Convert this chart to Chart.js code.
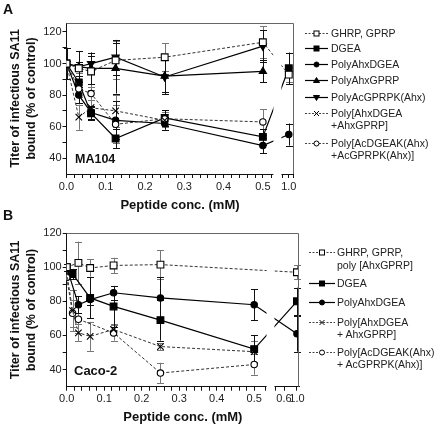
<!DOCTYPE html>
<html>
<head>
<meta charset="utf-8">
<script src="https://cdn.jsdelivr.net/npm/chart.js@4.4.1/dist/chart.umd.min.js"></script>
<style>
  body { margin: 0; background: #fff; font-family: "Liberation Sans", Arial, sans-serif; }
  #wrap { position: relative; width: 436px; height: 427px; overflow: hidden; }
  canvas { position: absolute; left: 0; }
  .panel { position: absolute; font-weight: bold; font-size: 14px; line-height: 14px; color: #111; }
  .leg { position: absolute; font-size: 10.5px; line-height: 13px; color: #222; white-space: nowrap; }
  #sym { position: absolute; left: 0; top: 0; }
</style>
</head>
<body>
<div id="wrap">
  <canvas id="chartA" width="320" height="214" style="top:0"></canvas>
  <canvas id="chartB" width="320" height="214" style="top:213px"></canvas>
  <div class="panel" style="left:3px;top:2px">A</div>
  <div class="panel" style="left:3px;top:208px">B</div>
  <svg id="sym" width="436" height="427"></svg>
</div>
<script>
// ---- datos panel A (MA104) ----
const concA = [0, 0.03125, 0.0625, 0.125, 0.25, 0.5, 1.0];
const ghrpA = [100, 97, 95, 102, 104, 113.5, 93];
const ghrpErrA = [0, 3, 12, 12, 9, 10, 5];
const dgeaA = [100, 88, 68.5, 52.5, 65.5, 53.5, 97];
const dgeaErrA = [10, 4, 4, 6, 5, 5, 10];
const ahxDgeaA = [100, 80, 69, 64, 62, 48, 55];
const ahxDgeaErrA = [0, 5, 4, 12, 4, 5, 7];
const ahxGprpA = [100, 98, 97, 97, 92, 95, null];
const ahxGprpErrA = [0, 3, 10, 16, 10, 7, null];
const acGprpA = [100, 98, 100, 104, 91.5, 111, null];
const acGprpErrA = [0, 10, 5, 11, 11, 10, null];
const mixA = [100, 66, 72, 70, 64, null, null];
const mixErrA = [0, 8, 5, 10, 4, null, null];
const acMixA = [100, 84, 81, 61.5, 65, 63, null];
const acMixErrA = [0, 5, 4, 12, 4, 8, null];

// ---- datos panel B (Caco-2) ----
const concB = [0, 0.015625, 0.03125, 0.0625, 0.125, 0.25, 0.5, 1.0];
const ghrpB = [100, null, 102.5, 99.5, 101, 101.5, null, 97];
const ghrpErrB = [0, null, 12.5, 5, 4.5, 8.5, null, 4];
const dgeaB = [100, 96, null, 82, 77, 69, 52, 80];
const dgeaErrB = [2, 3, null, 12, 12, 12, 8, 8];
const ahxDgeaB = [100, null, 78, 81, 85, 82, 78, 61];
const ahxDgeaErrB = [0, null, 5, 3, 4, 12, 9, 10.5];
const mixB = [97, 74.5, 61.5, 59.5, 63.5, 53.5, 50.5, null];
const mixErrB = [0, 12, 5, 8.5, 3, 2, 6, null];
const acMixB = [94, 73, 69.5, null, 61.5, 38, 43, null];
const acMixErrB = [0, 8, 8, null, 4.5, 6, 6, null];

// tick labels / leyendas
const yTicks = [40, 50, 60, 70, 80, 90, 100, 110, 120];
const namesA = [['GHRP, GPRP'], ['DGEA'], ['PolyAhxDGEA'], ['PolyAhxGPRP'], ['PolyAcGPRPK(Ahx)'],
  ['Poly[AhxDGEA', '+AhxGPRP]'], ['Poly[AcDGEAK(Ahx)', '+AcGPRPK(Ahx)]']];
const namesB = [['GHRP, GPRP,', 'poly [AhxGPRP]'], ['DGEA'], ['PolyAhxDGEA'],
  ['Poly[AhxDGEA', ' + AhxGPRP]'], ['Poly[AcDGEAK(Ahx)', ' + AcGPRPK(Ahx)]']];

const FAMILY = '"Liberation Sans", Arial, sans-serif';
Chart.defaults.font.family = FAMILY;
Chart.defaults.color = '#111';
Chart.defaults.animation = false;

// estilos de cada serie
const styles = {
  ghrp:    { pointStyle: 'rect', r: 4.8, fill: '#fff', dash: true },
  dgea:    { pointStyle: 'rect', r: 4.8, fill: '#000', dash: false },
  ahxDgea: { pointStyle: 'circle', r: 3.2, fill: '#000', dash: false },
  ahxGprp: { pointStyle: 'triangle', r: 4.2, fill: '#000', dash: false },
  acGprp:  { pointStyle: 'triangle', r: 4.2, fill: '#000', dash: false, rot: 180 },
  mix:     { pointStyle: 'crossRot', r: 4.6, fill: '#000', dash: true },
  acMix:   { pointStyle: 'circle', r: 3.2, fill: '#fff', dash: true }
};

function pts(conc, vals, errs, pos) {
  const out = [];
  conc.forEach((c, i) => {
    if (vals[i] != null) out.push({ x: pos(c), y: vals[i], e: errs[i] });
  });
  return out;
}

function serie(key, data) {
  const s = styles[key];
  return {
    data: data,
    borderColor: s.dash ? '#333' : '#000',
    borderWidth: s.dash ? 1 : 1.2,
    borderDash: s.dash ? [3, 2] : [],
    tension: 0,
    pointStyle: s.pointStyle,
    pointRadius: s.r,
    pointRotation: s.rot || 0,
    pointBackgroundColor: s.fill,
    pointBorderColor: '#000',
    pointBorderWidth: 1.1,
    errColor: s.dash ? '#777' : '#111'
  };
}

// barras de error, corte del eje, marco y rotulo
const brkPlugin = {
  id: 'brk',
  beforeDatasetsDraw(chart) {
    const { ctx, scales: { x, y } } = chart;
    ctx.save();
    ctx.lineWidth = 1;
    chart.data.datasets.forEach(d => {
      ctx.strokeStyle = d.errColor;
      d.data.forEach(p => {
        if (!p.e) return;
        const px = Math.round(x.getPixelForValue(p.x)) + 0.5;
        const y1 = y.getPixelForValue(p.y + p.e);
        const y2 = y.getPixelForValue(p.y - p.e);
        ctx.beginPath();
        ctx.moveTo(px, y1); ctx.lineTo(px, y2);
        ctx.moveTo(px - 3.5, Math.round(y1) + 0.5); ctx.lineTo(px + 3.5, Math.round(y1) + 0.5);
        ctx.moveTo(px - 3.5, Math.round(y2) + 0.5); ctx.lineTo(px + 3.5, Math.round(y2) + 0.5);
        ctx.stroke();
      });
    });
    ctx.restore();
  },
  afterDatasetsDraw(chart, args, o) {
    const { ctx, chartArea: a, scales: { x } } = chart;
    const x1 = x.getPixelForValue(o.gapL) + 1.5;
    const x2 = x.getPixelForValue(o.gapR) - 1.5;
    ctx.save();
    ctx.fillStyle = '#fff';
    ctx.fillRect(x1, a.top + 1, x2 - x1, a.bottom - a.top + 8);
    ctx.restore();
  },
  afterDraw(chart, args, o) {
    const { ctx, chartArea: a } = chart;
    ctx.save();
    ctx.strokeStyle = '#666';
    ctx.lineWidth = 1;
    ctx.beginPath();
    ctx.moveTo(a.left, Math.round(a.top) + 0.5);
    ctx.lineTo(Math.round(a.right) - 0.5, Math.round(a.top) + 0.5);
    ctx.lineTo(Math.round(a.right) - 0.5, a.bottom);
    ctx.stroke();
    ctx.fillStyle = '#111';
    ctx.font = 'bold ' + o.tagSize + 'px ' + FAMILY;
    ctx.textBaseline = 'middle';
    ctx.fillText(o.tag, o.tagX, o.tagY);
    ctx.restore();
  }
};

function makePanel(id, datasets, brk) {
  const H = 214;
  const xTicks = [];
  for (let i = 0; i <= 25; i++) xTicks.push(i * 0.02);
  xTicks.push(brk.gapL, brk.gapR);
  if (brk.six) xTicks.push(brk.six);
  xTicks.push(brk.one);
  if (brk.endTick) xTicks.push(brk.max);

  return new Chart(document.getElementById(id), {
    type: 'line',
    data: { datasets: datasets },
    options: {
      responsive: false,
      layout: { padding: { top: brk.top, right: 320 - brk.right, left: 0, bottom: 0 } },
      plugins: {
        legend: { display: false },
        tooltip: { enabled: false },
        brk: brk
      },
      scales: {
        x: {
          type: 'linear', min: 0, max: brk.max,
          border: { color: '#111', width: 1 },
          grid: { drawOnChartArea: false, tickLength: 4, color: '#111' },
          afterBuildTicks: s => { s.ticks = xTicks.map(v => ({ value: v })); },
          afterFit: s => { s.height = H - brk.bottom; },
          ticks: {
            autoSkip: false, maxRotation: 0, padding: 2, color: '#222',
            font: { size: 11 },
            callback: v => {
              if (Math.abs(v - brk.one) < 1e-4) return '1.0';
              if (brk.six && Math.abs(v - brk.six) < 1e-4) return '0.6';
              if (v <= 0.5001 && Math.abs(v * 10 - Math.round(v * 10)) < 1e-4) return v.toFixed(1);
              return '';
            }
          },
          title: {
            display: true, text: 'Peptide conc. (mM)', color: '#111',
            font: { size: 13, weight: 'bold', lineHeight: 1.2 },
            padding: { top: 0, bottom: brk.titlePad }
          }
        },
        y: {
          min: 30, max: brk.yMax,
          border: { color: '#111', width: 1 },
          grid: { drawOnChartArea: false, tickLength: 4, color: '#111' },
          afterBuildTicks: s => { s.ticks = yTicks.map(v => ({ value: v })); },
          afterFit: s => { s.width = brk.left; },
          ticks: {
            padding: 1, color: '#222', font: { size: 11 },
            callback: v => (v % 20 === 0 ? v : '')
          },
          title: {
            display: true, color: '#111',
            text: ['Titer of infectious SA11', 'bound (% of control)'],
            font: { size: 12.5, weight: 'bold', lineHeight: 1.28 },
            padding: { top: 8, bottom: 0 }
          }
        }
      }
    },
    plugins: [brkPlugin]
  });
}

// eje partido: 0-0.5 lineal, 1.0 (y 0.6) despues del corte
const brkA = { one: 0.566, gapL: 0.523, gapR: 0.551, max: 0.578, endTick: true,
  left: 66.5, right: 293.5, top: 23, bottom: 174, yMax: 125.7, titlePad: 1.2,
  tag: 'MA104', tagSize: 12.5, tagX: 75, tagY: 160 };
const brkB = { six: 0.5795, one: 0.614, gapL: 0.529, gapR: 0.558, max: 0.6195, endTick: false,
  left: 66.7, right: 299, top: 20, bottom: 173.7, yMax: 120, titlePad: 2.2,
  tag: 'Caco-2', tagSize: 13, tagX: 74, tagY: 158 };

const posA = c => (c <= 0.5 ? c : brkA.one);
const posB = c => (c <= 0.5 ? c : (c >= 1 ? brkB.one : brkB.six));

makePanel('chartA', [
  serie('ghrp', pts(concA, ghrpA, ghrpErrA, posA)),
  serie('mix', pts(concA, mixA, mixErrA, posA)),
  serie('acMix', pts(concA, acMixA, acMixErrA, posA)),
  serie('ahxGprp', pts(concA, ahxGprpA, ahxGprpErrA, posA)),
  serie('acGprp', pts(concA, acGprpA, acGprpErrA, posA)),
  serie('ahxDgea', pts(concA, ahxDgeaA, ahxDgeaErrA, posA)),
  serie('dgea', pts(concA, dgeaA, dgeaErrA, posA))
], brkA);

makePanel('chartB', [
  serie('ghrp', pts(concB, ghrpB, ghrpErrB, posB)),
  serie('mix', pts(concB, mixB, mixErrB, posB)),
  serie('acMix', pts(concB, acMixB, acMixErrB, posB)),
  serie('ahxDgea', pts(concB, ahxDgeaB, ahxDgeaErrB, posB)),
  serie('dgea', pts(concB, dgeaB, dgeaErrB, posB))
], brkB);

// ---- leyendas (html + svg) ----
const svg = document.getElementById('sym');
const wrap = document.getElementById('wrap');
function el(tag, attrs) {
  const e = document.createElementNS('http://www.w3.org/2000/svg', tag);
  for (const k in attrs) e.setAttribute(k, attrs[k]);
  svg.appendChild(e);
}
function marker(key, cx, cy) {
  const s = styles[key];
  const st = { fill: s.fill, stroke: '#000', 'stroke-width': 1 };
  if (s.pointStyle === 'rect') el('rect', Object.assign({ x: cx - 2.5, y: cy - 2.5, width: 5, height: 5 }, st));
  else if (s.pointStyle === 'circle') el('circle', Object.assign({ cx: cx, cy: cy, r: 2.5 }, st));
  else if (s.pointStyle === 'triangle') {
    const d = s.rot ? 1 : -1;
    el('polygon', Object.assign({ points: `${cx - 3},${cy - d * 2} ${cx + 3},${cy - d * 2} ${cx},${cy + d * 3}` }, st));
  } else {
    el('path', { d: `M${cx - 2.5},${cy - 2.5}L${cx + 2.5},${cy + 2.5}M${cx - 2.5},${cy + 2.5}L${cx + 2.5},${cy - 2.5}`, stroke: '#000', 'stroke-width': 1 });
  }
}
function legend(keys, names, rows, x1, x2, tx) {
  keys.forEach((k, i) => {
    const cy = rows[i][0];
    const s = styles[k];
    el('line', { x1: x1, y1: cy + 0.5, x2: x2, y2: cy + 0.5, stroke: s.dash ? '#444' : '#000',
      'stroke-width': s.dash ? 1 : 1.2, 'stroke-dasharray': s.dash ? '2,1.5' : 'none' });
    marker(k, (x1 + x2) / 2, cy + 0.5);
    names[i].forEach((t, j) => {
      const d = document.createElement('div');
      d.className = 'leg';
      d.style.left = tx + 'px';
      d.style.top = (rows[i][j] - 6.5) + 'px';
      d.textContent = t;
      wrap.appendChild(d);
    });
  });
}
legend(['ghrp', 'dgea', 'ahxDgea', 'ahxGprp', 'acGprp', 'mix', 'acMix'], namesA,
  [[33], [48], [64], [80], [97], [113, 125], [143, 155]], 305, 328, 331);
legend(['ghrp', 'dgea', 'ahxDgea', 'mix', 'acMix'], namesB,
  [[252, 265], [283], [302], [322, 334], [352, 364]], 309, 335, 337);
</script>
</body>
</html>
